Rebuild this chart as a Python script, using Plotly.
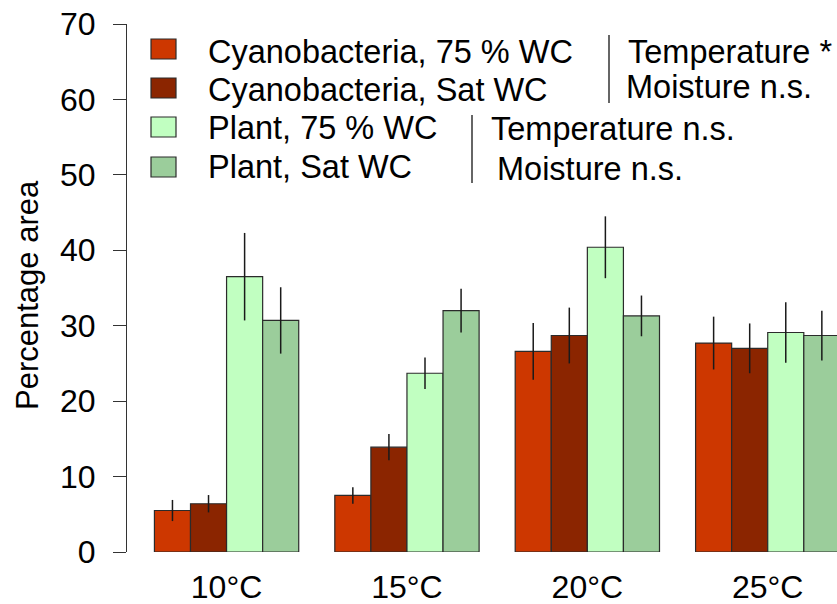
import plotly.graph_objects as go

# ---- data ----
temps = ["10°C", "15°C", "20°C", "25°C"]
series_names = ["Cyanobacteria, 75 % WC", "Cyanobacteria, Sat WC",
                "Plant, 75 % WC", "Plant, Sat WC"]
cyano_75 = [5.5, 7.5, 26.6, 27.7]
cyano_sat = [6.4, 13.9, 28.7, 27.0]
plant_75 = [36.5, 23.7, 40.4, 29.1]
plant_sat = [30.7, 32.0, 31.3, 28.7]
cyano_75_err = [1.4, 1.1, 3.75, 3.5]
cyano_sat_err = [1.15, 1.75, 3.7, 3.3]
plant_75_err = [5.8, 2.1, 4.1, 4.0]
plant_sat_err = [4.4, 2.9, 2.7, 3.3]
colors = ["#CD3700", "#8B2500", "#C1FFC1", "#9BCD9B"]
y_ticks = [0, 10, 20, 30, 40, 50, 60, 70]
stats_cyano = ["Temperature *", "Moisture n.s."]
stats_plant = ["Temperature n.s.", "Moisture n.s."]

W, H = 837, 604
L, R, T, B = 127, 0, 24, 52
FONT = "Liberation Sans, Arial, sans-serif"
FS_LEG = 32.5
FS_TICK = 32
FS_TITLE = 31

values = [cyano_75, cyano_sat, plant_75, plant_sat]
errors = [cyano_75_err, cyano_sat_err, plant_75_err, plant_sat_err]

fig = go.Figure()
for name, vals, errs, col in zip(series_names, values, errors, colors):
    fig.add_trace(go.Bar(
        x=temps, y=vals, name=name,
        marker=dict(color=col, line=dict(color="#2b2b2b", width=1.2)),
        error_y=dict(type="data", array=errs, visible=True,
                     color="#1a1a1a", thickness=1.5, width=0),
        showlegend=False,
    ))

pw = W - L - R
ph = H - T - B

def px2x(px):
    return (px - L) / pw

def py2y(py):
    return (H - B - py) / ph

shapes = []
annotations = []
# legend keys
box_tops = [39, 78, 117, 157]
text_centers = [52, 90, 128, 167]
for top, tc, name, col in zip(box_tops, text_centers, series_names, colors):
    shapes.append(dict(type="rect", xref="paper", yref="paper",
                       x0=px2x(151), x1=px2x(176), y0=py2y(top + 20), y1=py2y(top),
                       fillcolor=col, line=dict(color="#2b2b2b", width=1.2)))
    annotations.append(dict(text=name, xref="paper", yref="paper",
                            x=px2x(206), y=py2y(tc), xanchor="left", yanchor="middle",
                            showarrow=False, font=dict(size=FS_LEG, color="black", family=FONT)))
# separator lines
shapes.append(dict(type="line", xref="paper", yref="paper",
                   x0=px2x(609), x1=px2x(609), y0=py2y(35), y1=py2y(103),
                   line=dict(color="#333333", width=1.5)))
shapes.append(dict(type="line", xref="paper", yref="paper",
                   x0=px2x(472), x1=px2x(472), y0=py2y(115), y1=py2y(183),
                   line=dict(color="#333333", width=1.5)))
# statistics text
for txt, xl, yc in zip(stats_cyano, [626, 624], [52, 87]):
    annotations.append(dict(text=txt, xref="paper", yref="paper",
                            x=px2x(xl), y=py2y(yc), xanchor="left", yanchor="middle",
                            showarrow=False, font=dict(size=FS_LEG, color="black", family=FONT)))
for txt, xl, yc in zip(stats_plant, [489, 495], [129, 169]):
    annotations.append(dict(text=txt, xref="paper", yref="paper",
                            x=px2x(xl), y=py2y(yc), xanchor="left", yanchor="middle",
                            showarrow=False, font=dict(size=FS_LEG, color="black", family=FONT)))
# y-axis title
annotations.append(dict(text="Percentage area", xref="paper", yref="paper",
                        x=px2x(28), y=py2y(295), xanchor="center", yanchor="middle",
                        textangle=-90, showarrow=False,
                        font=dict(size=FS_TITLE, color="black", family=FONT)))

fig.update_layout(
    width=W, height=H,
    margin=dict(l=L, r=R, t=T, b=B, pad=0),
    paper_bgcolor="white", plot_bgcolor="white",
    barmode="group", bargap=0.2, bargroupgap=0,
    font=dict(family=FONT, size=FS_TICK, color="black"),
    shapes=shapes, annotations=annotations,
    xaxis=dict(range=[-0.552, 3.384], showline=False, showgrid=False,
               ticks="", zeroline=False, ticklabelstandoff=13,
               tickfont=dict(size=FS_TICK, family=FONT, color="black")),
    yaxis=dict(range=[0, 70], tickvals=y_ticks, showgrid=False, zeroline=False,
               showline=True, linecolor="#333333", linewidth=1.2,
               ticks="outside", ticklen=13, tickcolor="#333333", tickwidth=1.2,
               ticklabelstandoff=11,
               tickfont=dict(size=FS_TICK, family=FONT, color="black")),
)

fig.write_html("out.html")
